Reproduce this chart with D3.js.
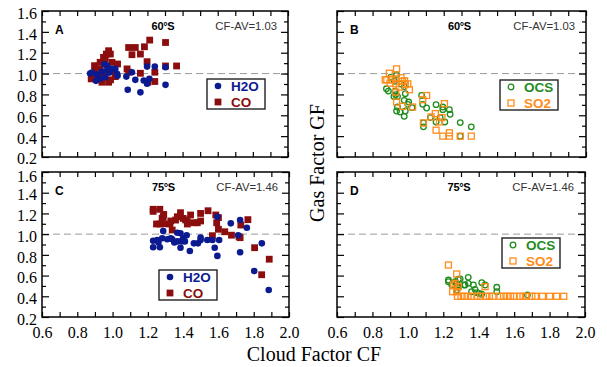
<!DOCTYPE html>
<html>
<head>
<meta charset="utf-8">
<script src="https://cdn.jsdelivr.net/npm/d3@7"></script>
<style>
  body { margin: 0; background: #fff; }
  svg { display: block; }
</style>
</head>
<body>
<div id="chart"></div>
<script>
// tick values
const xTicks = [0.6, 0.7, 0.8, 0.9, 1.0, 1.1, 1.2, 1.3, 1.4, 1.5, 1.6, 1.7, 1.8, 1.9, 2.0];
const xLabels = [0.6, 0.8, 1.0, 1.2, 1.4, 1.6, 1.8, 2.0];
const yMajor = [0.2, 0.4, 0.6, 0.8, 1.0, 1.2, 1.4, 1.6];
const yMinor = [0.3, 0.5, 0.7, 0.9, 1.1, 1.3, 1.5];

// 60°S, [cloud factor, gas factor]
const h2o60 = [[0.874,1.00],[0.884,1.01],[0.907,0.93],[0.912,0.99],[0.931,0.95],[0.941,1.02],[0.96,0.965],[0.97,1.076],
  [0.97,1.03],[0.979,1.045],[0.985,1.01],[0.998,1.045],[1.017,1.045],[1.027,0.997],[1.03,0.98],[1.08,0.971],[1.088,0.845],
  [1.112,1.013],[1.131,0.94],[1.16,0.82],[1.179,0.933],[1.198,1.067],[1.198,0.902],[1.211,0.949],[1.242,1.067],
  [1.303,1.06],[1.303,0.892],[0.955,1.09]];
const co60 = [[0.899,1.076],[0.931,1.108],[0.931,1.045],[0.95,1.155],[0.966,1.187],[0.979,1.219],[0.989,1.187],[0.998,1.108],
  [1.03,1.092],[1.007,1.029],[0.97,1.013],[0.941,0.981],[0.922,0.965],[0.903,1.029],[0.88,0.949],[0.89,0.987],[0.941,0.917],
  [0.979,0.917],[1.017,0.971],[1.093,1.25],[1.131,1.25],[1.084,1.045],[1.112,1.181],[1.16,1.187],[1.183,1.257],[1.213,1.321],
  [1.198,1.114],[1.242,1.013],[1.202,0.917],[1.242,0.924],[1.303,1.298],[1.303,1.073],[1.366,1.073],[1.093,1.013],
  [1.16,1.003],[0.96,1.14],[0.99,0.94]];
const ocs60 = [[0.935,0.99],[0.903,0.965],[0.922,0.927],[0.878,0.854],[0.889,0.832],[0.927,0.832],[0.93,0.797],[0.92,0.781],
  [0.94,0.781],[0.984,0.807],[0.978,0.743],[1.003,0.727],[0.998,0.705],[0.94,0.679],[0.935,0.641],[0.955,0.631],[0.984,0.641],
  [0.978,0.59],[1.022,0.673],[1.076,0.79],[1.082,0.705],[1.104,0.67],[1.157,0.702],[1.195,0.679],[1.195,0.654],[1.232,0.654],
  [1.236,0.61],[1.125,0.578],[1.157,0.536],[1.206,0.536],[1.18,0.578],[1.086,0.527],[1.086,0.489],[1.293,0.53],[1.355,0.489],
  [1.293,0.40],[0.978,0.876],[0.96,0.90]];
const so2_60 = [[0.935,1.045],[0.894,1.003],[0.871,0.94],[0.88,0.94],[0.909,0.94],[0.931,0.949],[0.898,0.908],[0.93,0.902],
  [0.969,0.927],[0.984,0.895],[0.998,0.902],[1.007,0.845],[0.95,0.87],[0.93,0.822],[0.935,0.727],[0.969,0.686],[1.025,0.679],
  [1.104,0.79],[1.082,0.749],[1.204,0.711],[1.129,0.584],[1.153,0.616],[1.176,0.536],[1.19,0.578],[1.086,0.527],[1.157,0.457],
  [1.195,0.40],[1.232,0.432],[1.232,0.40],[1.293,0.40],[1.355,0.40],[0.96,0.96],[0.98,0.93]];

// 75°S
const h2o75 = [[1.23,0.936],[1.23,0.873],[1.253,0.943],[1.268,0.873],[1.281,0.96],[1.287,1.03],[1.31,0.95],[1.33,0.96],
  [1.338,0.95],[1.367,1.013],[1.385,1.008],[1.367,0.93],[1.385,0.869],[1.39,0.93],[1.40,0.96],[1.41,0.93],[1.438,0.837],
  [1.461,0.911],[1.484,0.911],[1.499,0.966],[1.499,0.943],[1.537,0.943],[1.566,0.943],[1.579,0.869],[1.594,0.79],
  [1.604,0.943],[1.594,1.168],[1.67,1.104],[1.712,0.99],[1.723,1.136],[1.723,0.825],[1.761,1.062],[1.803,0.644],
  [1.846,0.911],[1.885,0.46],[1.42,0.99],[1.35,0.92],[1.26,0.92]];
const co75 = [[1.23,1.24],[1.23,1.22],[1.268,1.24],[1.287,1.168],[1.249,1.098],[1.268,1.098],[1.29,1.10],[1.281,1.152],
  [1.29,1.19],[1.325,1.098],[1.338,1.04],[1.33,1.127],[1.357,1.136],[1.367,1.168],[1.385,1.207],[1.40,1.152],[1.414,1.137],
  [1.424,1.12],[1.424,1.098],[1.442,1.185],[1.461,1.11],[1.48,1.11],[1.499,1.127],[1.499,1.20],[1.541,1.226],[1.585,1.185],
  [1.59,1.11],[1.60,1.16],[1.60,1.047],[1.566,0.985],[1.636,1.023],[1.674,0.99],[1.717,0.975],[1.723,0.966],[1.727,1.088],
  [1.767,1.14],[1.805,0.869],[1.845,0.608],[1.888,0.758]];
const ocs75 = [[1.229,0.557],[1.229,0.541],[1.248,0.509],[1.267,0.54],[1.276,0.525],[1.285,0.564],[1.295,0.567],[1.276,0.46],
  [1.28,0.50],[1.285,0.487],[1.317,0.509],[1.323,0.509],[1.341,0.583],[1.341,0.525],[1.37,0.509],[1.36,0.444],[1.379,0.467],
  [1.39,0.435],[1.403,0.428],[1.417,0.419],[1.417,0.531],[1.436,0.509],[1.502,0.487],[1.502,0.444],[1.675,0.412]];
const so2_75 = [[1.229,0.702],[1.276,0.615],[1.257,0.509],[1.267,0.525],[1.253,0.444],[1.276,0.444],[1.285,0.493],[1.436,0.493],
  [1.28,0.40],[1.30,0.40],[1.32,0.40],[1.34,0.40],[1.36,0.40],[1.39,0.40],[1.41,0.40],[1.44,0.40],[1.46,0.40],[1.48,0.40],
  [1.52,0.40],[1.54,0.40],[1.56,0.40],[1.58,0.40],[1.60,0.40],[1.63,0.40],[1.65,0.40],[1.67,0.40],[1.70,0.40],[1.72,0.40],
  [1.76,0.40],[1.80,0.40],[1.84,0.40],[1.88,0.40]];

const colors = { H2O: "#0c1a8f", CO: "#8b0d0d", OCS: "#1f8c1f", SO2: "#ff8c1a" };

const panels = [
  { letter: "A", region: "60°S", cfav: "CF-AV=1.03", box: [42, 288, 11, 157], yLabels: true, xLabels: false,
    series: [["CO", co60], ["H2O", h2o60]], legend: [["H2O", "dot"], ["CO", "sq"]], lx: 207, ly: 79 },
  { letter: "B", region: "60°S", cfav: "CF-AV=1.03", box: [337, 586, 11, 157], yLabels: false, xLabels: false,
    series: [["OCS", ocs60], ["SO2", so2_60]], legend: [["OCS", "ring"], ["SO2", "box"]], lx: 500, ly: 80 },
  { letter: "C", region: "75°S", cfav: "CF-AV=1.46", box: [42, 289, 172, 317], yLabels: true, xLabels: true,
    series: [["CO", co75], ["H2O", h2o75]], legend: [["H2O", "dot"], ["CO", "sq"]], lx: 159, ly: 270 },
  { letter: "D", region: "75°S", cfav: "CF-AV=1.46", box: [337, 585, 172, 317], yLabels: false, xLabels: true,
    series: [["OCS", ocs75], ["SO2", so2_75]], legend: [["OCS", "ring"], ["SO2", "box"]], lx: 502, ly: 238 }
];

const svg = d3.select("#chart").append("svg").attr("width", 607).attr("height", 367);

function drawMark(g, kind, color, cx, cy) {
  if (kind === "dot") {
    g.append("circle").attr("cx", cx).attr("cy", cy).attr("r", 3.3).attr("fill", color);
  } else if (kind === "sq") {
    g.append("rect").attr("x", cx - 3.4).attr("y", cy - 3.4).attr("width", 6.8).attr("height", 6.8).attr("fill", color);
  } else if (kind === "ring") {
    g.append("circle").attr("cx", cx).attr("cy", cy).attr("r", 2.8)
      .attr("fill", "none").attr("stroke", color).attr("stroke-width", 1.3);
  } else {
    g.append("rect").attr("x", cx - 3).attr("y", cy - 3).attr("width", 6).attr("height", 6)
      .attr("fill", "none").attr("stroke", color).attr("stroke-width", 1.3);
  }
}

const markKind = { H2O: "dot", CO: "sq", OCS: "ring", SO2: "box" };

panels.forEach((p) => {
  const [l, r, t, b] = p.box;
  const x = d3.scaleLinear().domain([0.6, 2.0]).range([l, r]);
  const y = d3.scaleLinear().domain([0.2, 1.6]).range([b, t]);
  const g = svg.append("g");

  // reference line GF = 1
  g.append("line").attr("x1", l).attr("x2", r).attr("y1", y(1.0)).attr("y2", y(1.0))
    .attr("stroke", "#9a9a9a").attr("stroke-width", 1).attr("stroke-dasharray", "7,4");

  // ticks (inward)
  const tickAxis = (axis, tr) => {
    const a = g.append("g").attr("transform", tr).call(axis);
    a.select(".domain").remove();
    a.selectAll("line").attr("stroke", "#000").attr("stroke-width", 1.2);
    a.selectAll("text").attr("font-family", "'Liberation Serif', 'Times New Roman', serif")
      .attr("font-size", 16).attr("fill", "#000");
    return a;
  };
  tickAxis(d3.axisBottom(x).tickValues(xTicks).tickSize(-5).tickFormat(""), `translate(0,${b})`);
  tickAxis(d3.axisTop(x).tickValues(xTicks).tickSize(-5).tickFormat(""), `translate(0,${t})`);
  if (p.xLabels) {
    tickAxis(d3.axisBottom(x).tickValues(xLabels).tickSize(0).tickPadding(10).tickFormat(d3.format(".1f")),
      `translate(0,${b})`);
  }
  const yl = tickAxis(d3.axisLeft(y).tickValues(yMajor).tickSize(-7).tickPadding(5)
    .tickFormat(p.yLabels ? d3.format(".1f") : ""), `translate(${l},0)`);
  yl.selectAll("text").attr("dy", (d) => (d === 1.6 && t > 100 ? "0.6em" : d === 0.2 && t < 100 ? "0.38em" : "0.45em"));
  tickAxis(d3.axisLeft(y).tickValues(yMinor).tickSize(-4).tickFormat(""), `translate(${l},0)`);
  tickAxis(d3.axisRight(y).tickValues(yMajor).tickSize(-7).tickFormat(""), `translate(${r},0)`);
  tickAxis(d3.axisRight(y).tickValues(yMinor).tickSize(-4).tickFormat(""), `translate(${r},0)`);

  // data
  p.series.forEach(([name, data]) => {
    const sg = g.append("g");
    data.forEach((d) => drawMark(sg, markKind[name], colors[name], x(d[0]), y(d[1])));
  });

  // frame
  g.append("rect").attr("x", l).attr("y", t).attr("width", r - l).attr("height", b - t)
    .attr("fill", "none").attr("stroke", "#000").attr("stroke-width", 1.5);

  // panel texts
  g.append("text").attr("x", l + 13).attr("y", t + 23).text(p.letter)
    .attr("font-family", "'Liberation Sans', Arial, sans-serif").attr("font-weight", "bold").attr("font-size", 12);
  g.append("text").attr("x", (l + r) / 2 - 2).attr("y", t + 19).attr("text-anchor", "middle").text(p.region)
    .attr("font-family", "'Liberation Sans', Arial, sans-serif").attr("font-weight", "bold").attr("font-size", 11)
    .attr("letter-spacing", -0.3);
  g.append("text").attr("x", r - 11).attr("y", t + 18.5).attr("text-anchor", "end").text(p.cfav)
    .attr("font-family", "'Liberation Sans', Arial, sans-serif").attr("font-size", 11.3).attr("fill", "#333");

  // legend
  const lg = g.append("g").attr("transform", `translate(${p.lx},${p.ly})`);
  lg.append("rect").attr("width", 58).attr("height", 30).attr("fill", "#fff")
    .attr("stroke", "#222").attr("stroke-width", 1.4);
  p.legend.forEach(([name, kind], i) => {
    drawMark(lg, kind, colors[name], 11, 7 + i * 16);
    lg.append("text").attr("x", 24).attr("y", 11.5 + i * 16).text(name).attr("fill", colors[name])
      .attr("font-family", "'Liberation Sans', Arial, sans-serif").attr("font-weight", "bold").attr("font-size", 13.5);
  });
});

// axis titles
svg.append("text").attr("x", 314).attr("y", 361).attr("text-anchor", "middle").text("Cloud Factor CF")
  .attr("font-family", "'Liberation Serif', 'Times New Roman', serif").attr("font-size", 20);
svg.append("text").attr("transform", "translate(324,163) rotate(-90)").attr("text-anchor", "middle").text("Gas Factor GF")
  .attr("font-family", "'Liberation Serif', 'Times New Roman', serif").attr("font-size", 20);
</script>
</body>
</html>
